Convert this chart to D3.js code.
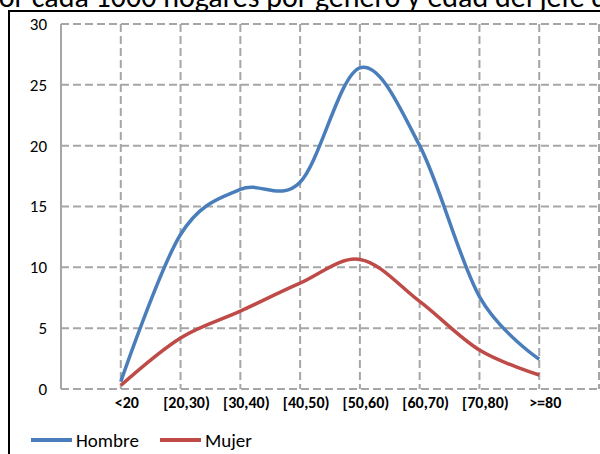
<!DOCTYPE html>
<html><head><meta charset="utf-8">
<script src="https://cdn.jsdelivr.net/npm/d3@7"></script>
<style>html,body{margin:0;padding:0;background:#fff;overflow:hidden}</style>
</head><body>
<svg id="c" width="600" height="454"></svg>
<script>
const categories = ["<20","[20,30)","[30,40)","[40,50)","[50,60)","[60,70)","[70,80)",">=80"];
const hombre = [0.6, 12.7, 16.4, 17.0, 26.4, 20.0, 7.6, 2.45];
const mujer  = [0.3, 4.2, 6.4, 8.7, 10.65, 7.2, 3.2, 1.15];
const yTicks = [0,5,10,15,20,25,30];
const seriesNames = ["Hombre","Mujer"];
const titleText = "por cada 1000 hogares por género y edad del jefe del hogar";

const font = "Carlito, Calibri, Lato, sans-serif";
const svg = d3.select("#c");
const x = d3.scaleLinear().domain([-1, 8]).range([61, 599]);
const y = d3.scaleLinear().domain([0, 30]).range([389, 24]);

// title (cropped at top)
svg.append("text").attr("x", -17).attr("y", 7).attr("font-family", font)
  .attr("font-size", 30).attr("fill", "#000").text(titleText);

// chart frame
svg.append("rect").attr("x", 9).attr("y", 11).attr("width", 700).attr("height", 500)
  .attr("fill", "none").attr("stroke", "#000").attr("stroke-width", 2);

const grid = svg.append("g").attr("stroke", "#a6a6a6").attr("stroke-width", 2);
grid.selectAll("line.h").data(yTicks).join("line")
  .attr("x1", x(-1)).attr("x2", x(8)).attr("y1", d => y(d)).attr("y2", d => y(d))
  .attr("stroke-dasharray", "8,4");
grid.selectAll("line.v").data(d3.range(0, 9)).join("line")
  .attr("x1", d => x(d)).attr("x2", d => x(d)).attr("y1", y(30)).attr("y2", y(0))
  .attr("stroke-dasharray", "8,4");
grid.append("line").attr("x1", x(-1)).attr("x2", x(-1)).attr("y1", y(30)).attr("y2", y(0));

svg.append("g").selectAll("text").data(yTicks).join("text")
  .attr("x", 47).attr("y", d => y(d)).attr("dy", "0.35em").attr("text-anchor", "end")
  .attr("font-family", font).attr("font-size", 17).attr("fill", "#000").text(d => d);

svg.append("g").selectAll("text").data(categories).join("text")
  .attr("x", (d, i) => x(i) + 6).attr("y", 402).attr("dy", "0.35em").attr("text-anchor", "middle")
  .attr("font-family", font).attr("font-size", 16).attr("font-weight", "bold").attr("fill", "#000").text(d => d);

const colors = ["#4a7ebb", "#be4b48"];
const line = d3.line().x((d, i) => x(i)).y(d => y(d)).curve(d3.curveCardinal.tension(0));
[hombre, mujer].forEach((s, k) => {
  svg.append("path").datum(s).attr("d", line).attr("fill", "none")
    .attr("stroke", colors[k]).attr("stroke-width", 3.5).attr("stroke-linejoin", "round");
});

const leg = [{x0: 31, tx: 76}, {x0: 160, tx: 205}];
seriesNames.forEach((n, k) => {
  svg.append("line").attr("x1", leg[k].x0).attr("x2", leg[k].x0 + 41).attr("y1", 440).attr("y2", 440)
    .attr("stroke", colors[k]).attr("stroke-width", 4);
  svg.append("text").attr("x", leg[k].tx).attr("y", 440).attr("dy", "0.35em")
    .attr("font-family", font).attr("font-size", 19).attr("fill", "#000").text(n);
});
</script>
</body></html>
